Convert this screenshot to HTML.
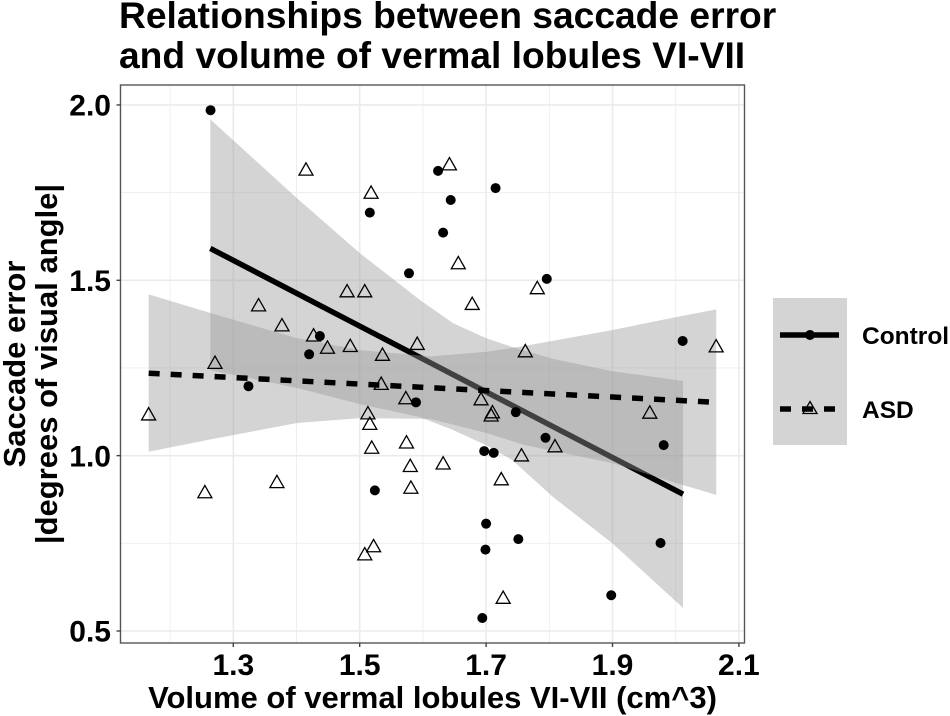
<!DOCTYPE html>
<html lang="en">
<head>
<meta charset="utf-8">
<title>Saccade error vs vermal lobule volume</title>
<style>
html,body{margin:0;padding:0;background:#fff;width:950px;height:716px;overflow:hidden}
svg{display:block}
text{font-family:"Liberation Sans",sans-serif;font-weight:700;fill:#000}
</style>
</head>
<body>
<svg id="chart" xmlns="http://www.w3.org/2000/svg" width="950" height="716" viewBox="0 0 950 716">
<g>
<text x="119" y="28" font-size="37.2">Relationships between saccade error</text>
<text x="119" y="68" font-size="37.2">and volume of vermal lobules VI-VII</text>
</g>
<rect x="120.5" y="85" width="624" height="558" fill="#fff"/>
<g id="grid"></g>
<g id="marks"></g>
<rect x="120.5" y="85" width="624" height="558" fill="none" stroke="#555" stroke-width="1.4"/>
<g id="axes"></g>
<text x="432.5" y="708" font-size="31" text-anchor="middle">Volume of vermal lobules VI-VII (cm^3)</text>
<g>
<text transform="translate(25,364) rotate(-90)" font-size="31" text-anchor="middle">Saccade error</text>
<text transform="translate(57,364) rotate(-90)" font-size="31" text-anchor="middle">|degrees of visual angle|</text>
</g>
<g>
<rect x="773" y="298" width="74" height="147" fill="#d4d4d4"/>
<g>
<line x1="780" y1="335" x2="839" y2="335" stroke="#000" stroke-width="5.5"/>
<circle cx="810" cy="335" r="5" fill="#000"/>
<text x="862" y="344" font-size="24.5">Control</text>
</g>
<g>
<line x1="780" y1="409" x2="839" y2="409" stroke="#000" stroke-width="5.5" stroke-dasharray="11 11"/>
<path d="M810 401.5 L817 413.5 L803 413.5 Z" fill="none" stroke="#000" stroke-width="1.3"/>
<text x="862" y="418" font-size="24.5">ASD</text>
</g>
</g>
</svg>
<script>
var xMajorTicks = [1.3, 1.5, 1.7, 1.9, 2.1];
var xMinorTicks = [1.2, 1.4, 1.6, 1.8, 2.0];
var yMajorTicks = [0.5, 1.0, 1.5, 2.0];
var yMinorTicks = [0.75, 1.25, 1.75];
var xTickLabels = ["1.3", "1.5", "1.7", "1.9", "2.1"];
var yTickLabels = ["0.5", "1.0", "1.5", "2.0"];

var controlX = [1.264,1.516,1.578,1.437,1.420,1.624,1.644,1.632,1.715,1.796,2.011,1.324,1.589,1.524,1.747,1.794,1.981,1.697,1.712,1.700,1.751,1.699,1.976,1.898,1.694];
var controlY = [1.985,1.693,1.520,1.341,1.289,1.812,1.729,1.636,1.763,1.504,1.327,1.198,1.152,0.901,1.124,1.051,1.030,1.013,1.008,0.806,0.762,0.732,0.751,0.602,0.537];

var asdX = [1.415,1.518,1.340,1.377,1.427,1.449,1.485,1.536,1.591,1.480,1.508,1.271,1.642,1.656,1.678,1.781,1.762,2.064,1.166,1.255,1.369,1.534,1.573,1.513,1.516,1.519,1.574,1.580,1.581,1.522,1.508,1.692,1.710,1.708,1.959,1.809,1.756,1.632,1.724,1.727];
var asdY = [1.817,1.751,1.430,1.373,1.344,1.309,1.314,1.289,1.320,1.470,1.470,1.266,1.832,1.550,1.434,1.479,1.299,1.313,1.119,0.897,0.926,1.206,1.165,1.122,1.092,1.024,1.039,0.972,0.910,0.743,0.720,1.162,1.125,1.116,1.124,1.028,1.002,0.979,0.934,0.596];

var controlBandX = [1.2636,1.4008,1.5005,1.5954,1.6476,1.6998,1.7410,1.8059,1.8992,2.0116];
var controlBandUpper = [1.959,1.734,1.577,1.444,1.378,1.335,1.310,1.276,1.241,1.213];
var controlBandLower = [1.244,1.193,1.147,1.110,1.073,1.030,0.988,0.882,0.751,0.566];

var asdBandX = [1.1661,1.2631,1.4008,1.5005,1.6113,1.6998,1.7615,1.8992,2.0004,2.0642];
var asdBandUpper = [1.460,1.407,1.335,1.301,1.283,1.296,1.313,1.358,1.395,1.417];
var asdBandLower = [1.011,1.046,1.093,1.107,1.105,1.065,1.030,0.979,0.922,0.888];

var controlFitX = [1.2636, 2.0116];
var controlFitY = [1.591, 0.890];
var asdFitX = [1.1661, 2.0642];
var asdFitY = [1.235, 1.152];

var NS = 'http://www.w3.org/2000/svg';
function sx(v){ return 233.3 + (v - 1.3) * 632; }
function sy(v){ return 631 - (v - 0.5) * 350.7; }
function mk(parent, tag, attrs){
  var el = document.createElementNS(NS, tag);
  for (var k in attrs) el.setAttribute(k, attrs[k]);
  parent.appendChild(el);
  return el;
}
var grid = document.getElementById('grid');
var marks = document.getElementById('marks');
var axes = document.getElementById('axes');
var PL = 120.5, PR = 744.5, PT = 85, PB = 643;

yMinorTicks.forEach(function(v){
  var el = mk(grid, 'line', {x1:PL, x2:PR, y1:sy(v), y2:sy(v), stroke:'#eeeeee', 'stroke-width':0.9});
  
  
});
xMinorTicks.forEach(function(v){
  var el = mk(grid, 'line', {x1:sx(v), x2:sx(v), y1:PT, y2:PB, stroke:'#eeeeee', 'stroke-width':0.9});
  
  
});
yMajorTicks.forEach(function(v){
  var el = mk(grid, 'line', {x1:PL, x2:PR, y1:sy(v), y2:sy(v), stroke:'#ebebeb', 'stroke-width':1.6});
  
  
});
xMajorTicks.forEach(function(v){
  var el = mk(grid, 'line', {x1:sx(v), x2:sx(v), y1:PT, y2:PB, stroke:'#ebebeb', 'stroke-width':1.6});
  
  
});

function bandPath(xs, up, lo){
  var pts = [];
  xs.forEach(function(v, i){ pts.push(sx(v) + ',' + sy(up[i])); });
  for (var i = xs.length - 1; i >= 0; i--) pts.push(sx(xs[i]) + ',' + sy(lo[i]));
  return pts.join(' ');
}
var controlBand = mk(marks, 'polygon', {points:bandPath(controlBandX, controlBandUpper, controlBandLower), fill:'#999', 'fill-opacity':0.42});


var controlFit = mk(marks, 'line', {x1:sx(controlFitX[0]), y1:sy(controlFitY[0]), x2:sx(controlFitX[1]), y2:sy(controlFitY[1]), stroke:'#000', 'stroke-width':5.5});


var asdBand = mk(marks, 'polygon', {points:bandPath(asdBandX, asdBandUpper, asdBandLower), fill:'#999', 'fill-opacity':0.42});


var asdFit = mk(marks, 'line', {x1:sx(asdFitX[0]), y1:sy(asdFitY[0]), x2:sx(asdFitX[1]), y2:sy(asdFitY[1]), stroke:'#000', 'stroke-width':5.5, 'stroke-dasharray':'11 11'});



controlX.forEach(function(v, i){
  var el = mk(marks, 'circle', {cx:sx(v), cy:sy(controlY[i]), r:5, fill:'#000'});
  
  
});
asdX.forEach(function(v, i){
  var x = sx(v), y = sy(asdY[i]);
  var d = 'M' + x + ' ' + (y - 6.3) + ' L' + (x + 7) + ' ' + (y + 6) + ' L' + (x - 7) + ' ' + (y + 6) + ' Z';
  var el = mk(marks, 'path', {d:d, fill:'none', stroke:'#000', 'stroke-width':1.3, 'stroke-linejoin':'miter'});
  
  
});

xMajorTicks.forEach(function(v, i){
  var t = mk(axes, 'line', {x1:sx(v), x2:sx(v), y1:PB, y2:PB + 4, stroke:'#444', 'stroke-width':1.4});
  
  
  var l = mk(axes, 'text', {x:sx(v), y:675, 'font-size':30, 'text-anchor':'middle'});
  l.textContent = xTickLabels[i];
  
  
});
yMajorTicks.forEach(function(v, i){
  var t = mk(axes, 'line', {x1:PL - 4, x2:PL, y1:sy(v), y2:sy(v), stroke:'#444', 'stroke-width':1.4});
  
  
  var l = mk(axes, 'text', {x:111, y:sy(v) + 10.7, 'font-size':30, 'text-anchor':'end'});
  l.textContent = yTickLabels[i];
  
  
});
</script>
</body>
</html>
